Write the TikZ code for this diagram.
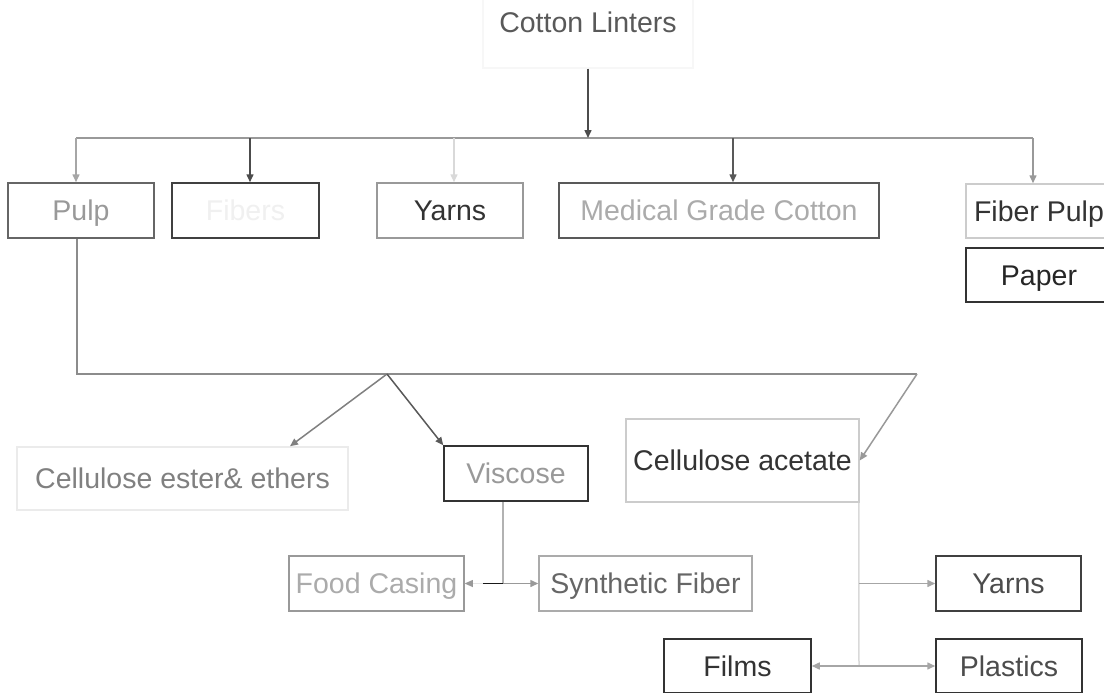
\documentclass[tikz,border=0pt]{standalone}
\usepackage{fontspec}
\setmainfont{Liberation Sans}
\usetikzlibrary{arrows.meta}
\tikzset{
  box/.style={draw, line width=1.5pt, inner sep=0pt, anchor=center,
    font=\fontsize{28.5}{34}\selectfont, text height=20.4pt, text depth=0pt},
  conn/.style={line width=1.5pt},
  arr/.style={conn, -{Triangle[length=8pt,width=7pt]}}
}
\begin{document}
\begin{tikzpicture}[x=1pt,y=-1pt]
\useasboundingbox (0,0) rectangle (1104,693);
\fill[white] (0,0) rectangle (1104,693);
\clip (0,0) rectangle (1104,693);

% nodes
\node[box, draw=black!3, text=black!65, minimum width=210pt, minimum height=92pt] (cotton) at (588,22) {Cotton Linters};
\node[box, draw=black!60, text=black!40, minimum width=146pt, minimum height=55pt] (pulp) at (81,210.5) {Pulp};
\node[box, draw=black!75, text=black!6, minimum width=147pt, minimum height=55pt] (fibers) at (245.5,210.5) {Fibers};
\node[box, draw=black!40, text=black!80, minimum width=146pt, minimum height=55pt] (yarns) at (450,210.5) {Yarns};
\node[box, draw=black!65, text=black!33, minimum width=320pt, minimum height=55pt] (medical) at (719,210.5) {Medical Grade Cotton};
\node[box, draw=black!20, text=black!80, minimum width=146pt, minimum height=54pt] (fiberpulp) at (1039,211) {Fiber Pulp};
\node[box, draw=black!80, text=black!85, minimum width=146pt, minimum height=54pt] (paper) at (1039,275) {Paper};

\node[box, draw=black!8, text=black!50, minimum width=331pt, minimum height=63pt] (ester) at (182.5,478.5) {Cellulose ester\& ethers};
\node[box, draw=black!80, text=black!40, minimum width=144pt, minimum height=55pt] (viscose) at (516,473.5) {Viscose};
\node[box, draw=black!20, text=black!80, minimum width=233pt, minimum height=83pt] (acetate) at (742.5,460.5) {Cellulose acetate};

\node[box, draw=black!40, text=black!33, minimum width=175pt, minimum height=55pt] (food) at (376.5,583.5) {Food Casing};
\node[box, draw=black!33, text=black!60, minimum width=213pt, minimum height=55pt] (synth) at (645.5,583.5) {Synthetic Fiber};
\node[box, draw=black!75, text=black!70, minimum width=145pt, minimum height=55pt] (yarns2) at (1008.5,583.5) {Yarns};
\node[box, draw=black!80, text=black!80, minimum width=147pt, minimum height=54pt] (films) at (737.5,666) {Films};
\node[box, draw=black!80, text=black!70, minimum width=146pt, minimum height=54pt] (plastics) at (1009,666) {Plastics};

% top bus
\coordinate (bus) at (588,138);
\coordinate (busL) at (76,138);
\coordinate (busR) at (1033,138);
\draw[conn, black!40] (busL) -- (busR);
\draw[arr, black!70] (cotton.south) -- (bus);
\draw[arr, black!35] ([xshift=-5pt]pulp.north |- bus) -- ([xshift=-5pt]pulp.north);
\draw[arr, black!70] ([xshift=4.5pt]fibers.north |- bus) -- ([xshift=4.5pt]fibers.north);
\draw[arr, black!15] ([xshift=4pt]yarns.north |- bus) -- ([xshift=4pt]yarns.north);
\draw[arr, black!65] ([xshift=14pt]medical.north |- bus) -- ([xshift=14pt]medical.north);
\draw[arr, black!40] ([xshift=-6pt]fiberpulp.north |- bus) -- ([xshift=-6pt]fiberpulp.north);

% pulp branch
\coordinate (split) at (387,374);
\coordinate (bendR) at (917,374);
\draw[conn, black!45] ([xshift=-4pt]pulp.south) |- (bendR);
\draw[arr, black!40] (bendR) -- (acetate.east);
\draw[arr, black!50] (split) -- ([xshift=107.5pt]ester.north);
\draw[arr, black!65] (split) -- (viscose.north west);

% viscose branch
\coordinate (vj) at (503,583.5);
\coordinate (vdark) at (483,583.5);
\draw[conn, black!30] ([xshift=-13pt]viscose.south) -- (vj);
\draw[arr, black!40] (vj) -- (synth.west);
\draw[arr, black!10] (vj) -- (food.east);
\fill[black!40] (food.east) -- ++(8,-3.5) -- ++(0,7) -- cycle;
\draw[conn, black!90] (vj) -- (vdark);

% acetate branch
\coordinate (aj) at (859,666);
\draw[conn, black!15] ([xshift=-1pt]acetate.south east) -- (aj);
\draw[arr, black!35] (aj |- yarns2.west) -- (yarns2.west);
\draw[arr, black!35] (aj) -- (films.east);
\draw[arr, black!35] (aj) -- (plastics.west);
\end{tikzpicture}
\end{document}
